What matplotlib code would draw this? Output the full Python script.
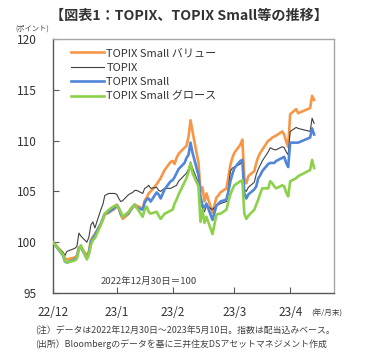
import matplotlib
matplotlib.use("Agg")
import matplotlib.pyplot as plt
import pandas as pd

plt.rcParams['font.family'] = ['Noto Sans CJK JP', 'DejaVu Sans']

dates = ["2022-12-30",
         "2023-01-04", "2023-01-05", "2023-01-06", "2023-01-10", "2023-01-11", "2023-01-12",
         "2023-01-13", "2023-01-16", "2023-01-17", "2023-01-18", "2023-01-19", "2023-01-20",
         "2023-01-23", "2023-01-24", "2023-01-25", "2023-01-26", "2023-01-27", "2023-01-30",
         "2023-01-31", "2023-02-01", "2023-02-02", "2023-02-03", "2023-02-06", "2023-02-07",
         "2023-02-08", "2023-02-09", "2023-02-10", "2023-02-13", "2023-02-14", "2023-02-15",
         "2023-02-16", "2023-02-17", "2023-02-20", "2023-02-21", "2023-02-22", "2023-02-24",
         "2023-02-27", "2023-02-28", "2023-03-01", "2023-03-02", "2023-03-03", "2023-03-06",
         "2023-03-07", "2023-03-08", "2023-03-09", "2023-03-10", "2023-03-13", "2023-03-14",
         "2023-03-15", "2023-03-16", "2023-03-17", "2023-03-20", "2023-03-22", "2023-03-23",
         "2023-03-24", "2023-03-27", "2023-03-28", "2023-03-29", "2023-03-30", "2023-03-31",
         "2023-04-03", "2023-04-04", "2023-04-05", "2023-04-06", "2023-04-07", "2023-04-10",
         "2023-04-11", "2023-04-12", "2023-04-13", "2023-04-14", "2023-04-17", "2023-04-18",
         "2023-04-19", "2023-04-20", "2023-04-21", "2023-04-24", "2023-04-25", "2023-04-26",
         "2023-04-27", "2023-04-28", "2023-05-01", "2023-05-02", "2023-05-08", "2023-05-09",
         "2023-05-10"]

small_value = [100.0,
               98.9, 98.4, 98.3, 98.5, 98.7, 99.5,
               99.5, 98.7, 99.1, 100.2, 100.5, 100.8,
               101.8, 102.3, 102.8, 102.8, 102.9, 103.3,
               103.7, 103.4, 102.7, 102.3, 102.8, 103.2,
               103.4, 103.6, 103.6, 103.3, 104.1, 104.4,
               104.8, 105.0, 105.7, 106.0, 106.3, 107.1,
               107.9, 108.0, 107.7, 108.3, 108.7, 109.3,
               109.5, 110.4, 112.0, 110.9, 107.8, 105.0,
               105.4, 104.0, 104.8, 102.9, 104.4, 104.6,
               104.9, 105.3, 106.4, 107.6, 108.3, 108.8,
               109.6, 110.1, 106.3, 105.8, 106.5, 107.0,
               107.8, 108.4, 108.8, 109.1, 110.0, 110.1,
               110.3, 110.4, 110.5, 110.9, 110.6, 109.9,
               109.4, 112.6, 113.1, 112.7, 113.2, 114.4,
               114.0]

topix = [100.0,
         99.0, 98.7, 99.1, 99.4, 99.6, 100.9,
         100.6, 100.0, 100.5, 101.7, 102.0, 101.4,
         103.2, 103.7, 104.6, 104.7, 104.8, 104.8,
         104.7, 104.3, 104.0, 104.1, 104.7, 104.8,
         104.9, 105.1, 105.1, 104.8, 105.3, 105.4,
         105.6, 105.3, 105.4, 105.1, 105.0, 105.3,
         105.3, 105.4, 105.5, 105.6, 106.0, 106.6,
         106.8, 107.2, 107.9, 107.3, 105.8, 104.3,
         103.3, 103.0, 103.6, 103.2, 103.6, 103.7,
         103.8, 104.0, 105.3, 107.0, 107.3, 107.4,
         107.7, 108.0, 105.2, 105.0, 105.4, 105.9,
         106.7, 107.2, 107.6, 108.0, 108.9, 109.3,
         109.2, 109.1, 109.1, 109.4, 109.3, 108.9,
         108.6, 110.9, 111.3, 111.2, 110.9, 112.2,
         111.7]

small = [100.0,
         98.7, 98.1, 98.0, 98.3, 98.5, 99.4,
         99.5, 98.4, 98.9, 100.0, 100.4, 100.7,
         101.8, 102.3, 102.8, 102.9, 103.0, 103.4,
         103.6, 103.3, 102.8, 102.5, 102.9, 103.2,
         103.5, 103.7, 103.4, 103.2, 103.9, 104.2,
         104.3, 104.0, 104.9, 104.7, 104.3, 105.2,
         106.0, 106.1, 106.4, 106.8, 107.2, 107.8,
         108.3, 108.6, 109.8, 108.8, 106.6, 104.5,
         103.6, 103.4, 103.8, 102.2, 103.6, 103.8,
         104.0, 104.2, 105.0, 106.0, 106.7, 107.3,
         108.0, 108.1, 104.8, 104.3, 104.7, 105.2,
         105.5, 106.3, 106.6, 107.0, 107.7, 107.8,
         107.8, 107.8, 108.0, 108.3, 108.4, 107.8,
         107.4, 109.8, 109.8, 109.8, 110.3, 111.2,
         110.6]

small_growth = [100.0,
                98.8, 98.2, 98.0, 98.2, 98.4, 99.3,
                99.7, 98.3, 98.8, 99.7, 100.2, 100.4,
                101.7, 102.2, 102.8, 103.0, 103.2, 103.6,
                103.6, 103.3, 103.0, 102.5, 103.0, 103.3,
                103.5, 103.7, 103.4, 102.5, 103.2, 103.5,
                103.0, 102.8, 103.0, 102.6, 102.3, 102.8,
                103.1, 103.2, 103.8, 104.2, 104.7, 105.9,
                106.3, 106.9, 107.8, 106.8, 105.5, 102.0,
                103.2, 101.9, 102.5, 100.8, 102.7, 102.8,
                102.8, 103.2, 104.0, 104.7, 105.2, 105.6,
                106.0, 106.1, 102.8, 102.3, 102.6, 103.2,
                103.7, 104.2, 104.8, 105.3, 105.3, 106.0,
                105.8, 105.5, 105.3, 105.6, 105.5, 104.9,
                104.5, 106.0, 106.3, 106.5, 107.1, 108.1,
                107.3]

tick_dates = ["2022-12-30", "2023-01-31", "2023-02-28", "2023-03-31", "2023-04-28"]
tick_labels = ["22/12", "23/1", "23/2", "23/3", "23/4"]
y_ticks = [95, 100, 105, 110, 115, 120]

x = pd.to_datetime(dates)

fig = plt.figure(figsize=(3.77, 3.54), dpi=100)
ax = fig.add_axes([0.1406, 0.1723, 0.7454, 0.7175])

ax.plot(x, small_value, color='#F79646', lw=1.9, label='TOPIX Small バリュー', zorder=2)
ax.plot(x, topix, color='#404040', lw=0.8, label='TOPIX', zorder=3)
ax.plot(x, small, color='#4F86D9', lw=1.9, label='TOPIX Small', zorder=4)
ax.plot(x, small_growth, color='#8DD14A', lw=1.9, label='TOPIX Small グロース', zorder=5)

ax.set_ylim(95, 120)
ax.set_yticks(y_ticks)
ax.set_xlim(pd.Timestamp("2022-12-30"), pd.Timestamp("2023-05-20"))
ax.set_xticks(pd.to_datetime(tick_dates))
ax.set_xticklabels(tick_labels)

ax.tick_params(axis='both', direction='in', length=4, width=0.8, color='#595959',
               labelsize=8.5, labelcolor='#333333')
ax.tick_params(axis='y', pad=12)
ax.tick_params(axis='x', pad=9)
for s in ['left', 'bottom']:
    ax.spines[s].set_color('#595959')
    ax.spines[s].set_linewidth(1.0)
for s in ['top', 'right']:
    ax.spines[s].set_color('#A6A6A6')
    ax.spines[s].set_linewidth(1.0)

leg = ax.legend(loc='upper left', bbox_to_anchor=(0.04, 0.99), frameon=False,
                fontsize=8.0, handlelength=3.0, handletextpad=0.2, labelspacing=0.4,
                borderaxespad=0.2)
for t in leg.get_texts():
    t.set_color('#333333')

ax.text(0.17, 0.045, '2022年12月30日＝100', transform=ax.transAxes, fontsize=6.8,
        color='#404040', ha='left', va='center')

fig.text(0.5, 0.955, '【図表1：TOPIX、TOPIX Small等の推移】', ha='center', va='center',
         fontsize=10.2, fontweight='bold', color='#333333')
fig.text(0.04, 0.92, '(ポイント)', ha='left', va='center', fontsize=5.2, color='#404040')
fig.text(0.825, 0.115, '(年/月末)', ha='left', va='center', fontsize=5.5, color='#404040')
fig.text(0.093, 0.068, '(注）データは2022年12月30日～2023年5月10日。指数は配当込みベース。',
         ha='left', va='center', fontsize=6.4, color='#404040')
fig.text(0.093, 0.027, '(出所）Bloombergのデータを基に三井住友DSアセットマネジメント作成',
         ha='left', va='center', fontsize=6.4, color='#404040')

fig.savefig('out.png', dpi=100)
